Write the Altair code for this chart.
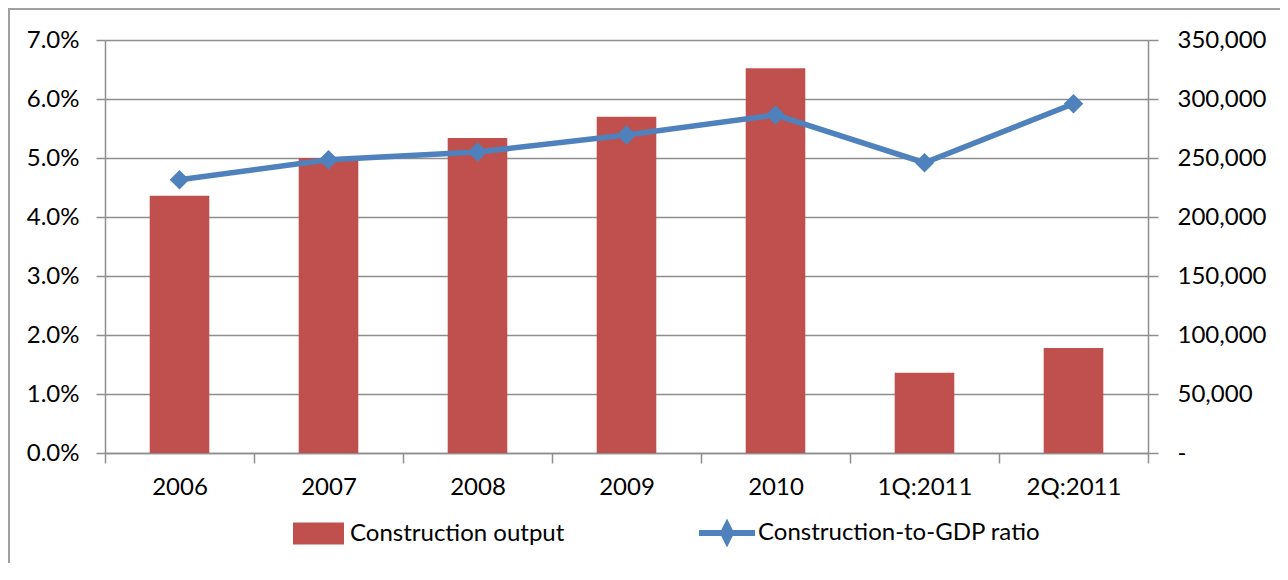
import altair as alt
import pandas as pd

categories = ["2006", "2007", "2008", "2009", "2010", "1Q:2011", "2Q:2011"]
output_values = [218000, 250000, 267000, 285000, 326000, 68000, 89000]
ratio_values = [0.0463, 0.0497, 0.0510, 0.0539, 0.0573, 0.0492, 0.0592]
left_ticks = [0.0, 0.01, 0.02, 0.03, 0.04, 0.05, 0.06, 0.07]
right_ticks = [0, 50000, 100000, 150000, 200000, 250000, 300000, 350000]
series_names = ["Construction output", "Construction-to-GDP ratio"]

BAR = "#C0504D"
LINE = "#4F81BD"
GRID = "#8E8E8E"
TXT = "#000000"
FONT = "Lato"
FS = 24

df = pd.DataFrame({
    "period": categories,
    "output": output_values,
    "ratio": ratio_values,
    "s1": series_names[0],
    "s2": series_names[1],
})

x_enc = alt.X(
    "period:N", sort=categories,
    scale=alt.Scale(paddingInner=0, paddingOuter=0),
    axis=alt.Axis(title=None, labelAngle=0, tickBand="extent", domainColor=GRID,
                  domainWidth=1.5, tickColor=GRID, tickWidth=1.5, tickSize=10,
                  labelPadding=12, labelFont=FONT, labelFontSize=FS, labelColor=TXT),
)

bars = alt.Chart(df).mark_bar(width={"band": 0.4}, color=BAR).encode(
    x=x_enc,
    y=alt.Y("output:Q", scale=alt.Scale(domain=[0, 350000], nice=False, zero=True),
            axis=alt.Axis(orient="right", title=None, values=right_ticks, grid=False,
                          labelExpr="datum.value == 0 ? '  -' : format(datum.value, ',')",
                          domainColor=GRID, domainWidth=1.5, tickColor=GRID, tickWidth=1.5,
                          tickSize=10, labelPadding=19, labelFont=FONT, labelFontSize=FS,
                          labelColor=TXT)),
    fill=alt.Fill("s1:N", scale=alt.Scale(domain=[series_names[0]], range=[BAR]),
                  legend=alt.Legend(title=None, orient="none", legendX=188, legendY=468,
                                    padding=0,
                                    symbolType="M-1,-0.43L1,-0.43L1,0.43L-1,0.43Z",
                                    symbolSize=2601, symbolStrokeWidth=0, labelOffset=6,
                                    labelFont=FONT, labelFontSize=FS, labelColor=TXT,
                                    labelLimit=400)),
)

line = alt.Chart(df).mark_line(strokeWidth=5.5).encode(
    x=x_enc,
    y=alt.Y("ratio:Q", scale=alt.Scale(domain=[0, 0.07], nice=False),
            axis=alt.Axis(orient="left", title=None, values=left_ticks, format=".1%",
                          grid=True, gridColor=GRID, gridWidth=1.5,
                          domainColor=GRID, domainWidth=1.5, tickColor=GRID, tickWidth=1.5,
                          tickSize=9, labelPadding=17, labelFont=FONT, labelFontSize=FS,
                          labelColor=TXT)),
    stroke=alt.Stroke("s2:N", scale=alt.Scale(domain=[series_names[1]], range=[LINE]),
                      legend=alt.Legend(title=None, orient="none", legendX=591, legendY=462,
                                        padding=0,
                                        symbolType="M-1,0L1,0M0,-0.28L0.14,0L0,0.28L-0.14,0Z",
                                        symbolSize=3136, symbolStrokeWidth=6,
                                        symbolFillColor=LINE, labelOffset=0,
                                        labelFont=FONT, labelFontSize=FS, labelColor=TXT,
                                        labelLimit=400)),
)

points = alt.Chart(df).mark_point(shape="diamond", filled=True, size=380, color=LINE,
                                  opacity=1).encode(
    x=x_enc,
    y=alt.Y("ratio:Q", scale=alt.Scale(domain=[0, 0.07], nice=False), axis=None),
)

frame_df = pd.DataFrame({"k": [0]})
frame_left = alt.Chart(frame_df).mark_rule(color="#A0A0A0", strokeWidth=2).encode(
    x=alt.value(-96), y=alt.value(-31), y2=alt.value(530))
frame_top = alt.Chart(frame_df).mark_rule(color="#A0A0A0", strokeWidth=2).encode(
    x=alt.value(-97), x2=alt.value(1200), y=alt.value(-31))

chart = alt.layer(frame_left, frame_top, bars, line, points).resolve_scale(
    y="independent", fill="independent", stroke="independent"
).properties(
    width=1043, height=413,
    autosize=alt.AutoSizeParams(type="none"),
    padding={"left": 97, "top": 32, "right": 132, "bottom": 110},
).configure_view(stroke=None).configure(background="white")

chart.save("out.html", embed_options={"renderer": "svg", "actions": False})
